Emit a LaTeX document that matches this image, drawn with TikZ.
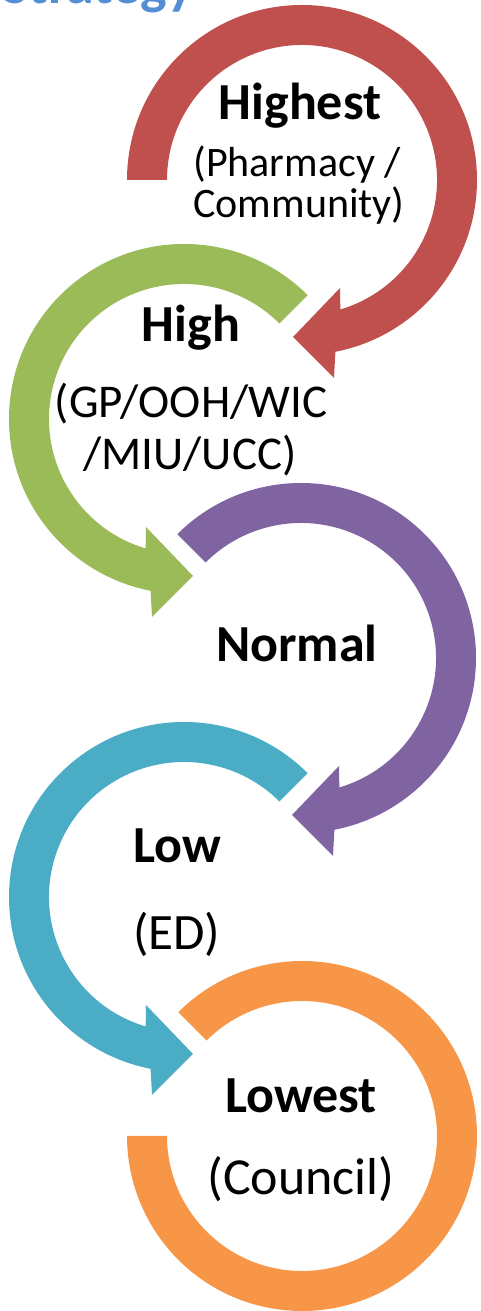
\documentclass[tikz,border=0pt]{standalone}
\usepackage{fontspec}
\setmainfont{Carlito}
\usepackage{tikz}
\usetikzlibrary{positioning}
\definecolor{redarc}{RGB}{192,80,77}
\definecolor{greenarc}{RGB}{155,187,89}
\definecolor{purplearc}{RGB}{128,100,162}
\definecolor{bluearc}{RGB}{75,172,198}
\definecolor{orangearc}{RGB}{247,150,70}
\definecolor{titleblue}{RGB}{85,142,213}
% ring with arrow head at the bottom, local coords, #1 = start angle
\newcommand{\ringarrow}[1]{(#1:175) arc[start angle=#1, end angle=259, radius=175]
  -- (-32,-198) -- (9,-157) -- (-38,-108) -- (253.5:135)
  arc[start angle=253.5, end angle=#1, radius=135] -- cycle}

\begin{document}
\begin{tikzpicture}[x=1pt,y=1pt,
    big label/.style={inner sep=0pt,anchor=base,font=\fontsize{52}{60}\selectfont\bfseries},
    small label/.style={inner sep=0pt,anchor=base,font=\fontsize{#1}{60}\selectfont},
    small label/.default=47]
   \useasboundingbox (0,0) rectangle (480,1311);
   \clip (0,0) rectangle (480,1311);
   % title, cut off at the top
   \node[inner sep=0pt,anchor=base east,text=titleblue,font=\fontsize{56}{60}\selectfont\bfseries] (title) at (194,1307) {Strategy};
   % rings
   \begin{scope}[shift={(302,1131)},xscale=-1]
     \fill[redarc] \ringarrow{0};
   \end{scope}
   \begin{scope}[shift={(184,892)}]
     \fill[greenarc] \ringarrow{45};
   \end{scope}
   \begin{scope}[shift={(301,653)},xscale=-1]
     \fill[purplearc] \ringarrow{45};
   \end{scope}
   \begin{scope}[shift={(184,414)}]
     \fill[bluearc] \ringarrow{45};
   \end{scope}
   \begin{scope}[shift={(302,175)},xscale=-1]
     \fill[orangearc] (45:175) arc[start angle=45, end angle=360, radius=175]
        -- (360:135) arc[start angle=360, end angle=45, radius=135] -- cycle;
   \end{scope}
   % labels
   \node[big label] (highest) at (300,1191) {Highest};
   \node[small label=42] (pharmacy) at (297,1134) {(Pharmacy /};
   \node[small label=42] (community) at (299,1093) {Community)};
   \node[big label] (high) at (191,969) {High};
   \node[small label] (gp) at (191,893) {(GP/OOH/WIC};
   \node[small label] (miu) at (190,841) {/MIU/UCC)};
   \node[big label] (normal) at (297,649) {Normal};
   \node[big label,anchor=base west] (low) at (133,448) {Low};
   \node[small label=51,anchor=base west] (ed) at (133,361) {(ED)};
   \node[big label] (lowest) at (301,198) {Lowest};
   \node[small label=52] (council) at (301,116) {(Council)};
\end{tikzpicture}
\end{document}
